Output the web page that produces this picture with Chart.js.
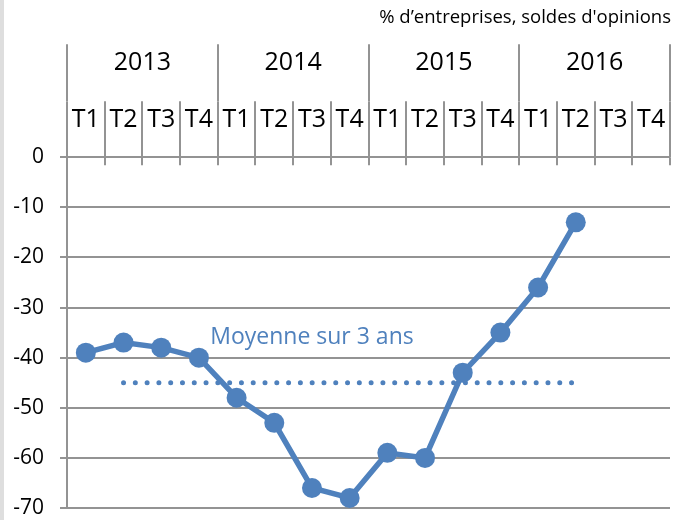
<!DOCTYPE html>
<html><head><meta charset="utf-8">
<script src="https://cdn.jsdelivr.net/npm/chart.js@4/dist/chart.umd.min.js"></script>
<style>
html,body{margin:0;padding:0;background:#fff;}
#wrap{position:relative;width:680px;height:520px;}
#edge{position:absolute;left:0;top:0;width:4px;height:520px;background:#dedede;}
canvas{display:block;}
</style></head><body>
<div id="wrap"><canvas id="c" width="680" height="520"></canvas><div id="edge"></div></div>
<script>
const titleText = '% d’entreprises, soldes d\'opinions';
const avgLabel = 'Moyenne sur 3 ans';
const years = ['2013', '2014', '2015', '2016'];
const quarters = ['T1','T2','T3','T4','T1','T2','T3','T4','T1','T2','T3','T4','T1','T2','T3','T4'];
const yTicks = [0, -10, -20, -30, -40, -50, -60, -70];
const soldes = [-39, -37, -38, -40, -48, -53, -66, -68, -59, -60, -43, -35, -26, -13];
const moyenne = [null, -45, -45, -45, -45, -45, -45, -45, -45, -45, -45, -45, -45, -45, null, null];

const BLUE = '#4f81bd';
const GRID = '#939393';
const FONT = 'Open Sans';

const innerTicks = {
  id: 'innerTicks',
  afterDraw(chart) {
    const s = chart.scales.x, c = chart.ctx, top = chart.chartArea.top;
    c.save();
    c.strokeStyle = GRID; c.lineWidth = 2;
    c.beginPath();
    for (let i = 0; i <= s.ticks.length; i++) {
      const px = Math.round(s.getPixelForValue(i - 0.5));
      c.moveTo(px, top); c.lineTo(px, top + 8);
    }
    c.stroke();
    c.restore();
  }
};

const avgText = {
  id: 'avgText',
  afterDatasetsDraw(chart) {
    const c = chart.ctx;
    const x = chart.scales.x.getPixelForValue(6);
    const y = chart.scales.y.getPixelForValue(-36);
    c.save();
    c.fillStyle = BLUE;
    c.font = '23px "' + FONT + '"';
    c.textAlign = 'center';
    c.textBaseline = 'middle';
    c.fillText(avgLabel, x, y);
    c.restore();
  }
};

new Chart(document.getElementById('c'), {
  type: 'line',
  data: {
    labels: quarters,
    datasets: [
      { label: 'Soldes', data: soldes, xAxisID: 'x', yAxisID: 'y',
        borderColor: BLUE, backgroundColor: BLUE, borderWidth: 5.5,
        pointRadius: 10, pointBackgroundColor: BLUE, pointBorderWidth: 0,
        tension: 0, fill: false, order: 1 },
      { label: avgLabel, data: moyenne, xAxisID: 'x', yAxisID: 'y',
        borderColor: BLUE, borderWidth: 5, borderDash: [0, 11.79], borderCapStyle: 'round',
        pointRadius: 0, fill: false, tension: 0, order: 2 }
    ]
  },
  options: {
    responsive: false, animation: false, devicePixelRatio: 1,
    layout: { padding: { left: 0, right: 9, top: 0, bottom: 12 } },
    plugins: {
      legend: { display: false },
      tooltip: { enabled: false },
      title: { display: true, text: titleText, align: 'end', color: '#000',
        font: { family: FONT, size: 18.5, weight: 'normal' }, padding: { top: 7, bottom: 15 } }
    },
    scales: {
      x: { type: 'category', position: 'top', offset: true, weight: 0,
        grid: { offset: true, drawOnChartArea: false, drawTicks: true, tickLength: 56, color: GRID, lineWidth: 2 },
        border: { display: false },
        ticks: { padding: -34, color: '#000', font: { family: FONT, size: 25 }, maxRotation: 0, autoSkip: false },
        afterFit: s => { s.height = 56; } },
      x2: { type: 'category', labels: years, position: 'top', offset: true, weight: 1,
        grid: { offset: true, drawOnChartArea: false, drawTicks: true, tickLength: 57, color: GRID, lineWidth: 2 },
        border: { display: false },
        ticks: { padding: -34, color: '#000', font: { family: FONT, size: 25 }, maxRotation: 0, autoSkip: false },
        afterFit: s => { s.height = 57; } },
      y: { type: 'linear', position: 'left', min: -70, max: 0,
        afterBuildTicks: s => { s.ticks = yTicks.map(v => ({ value: v })); },
        ticks: { padding: 16, color: '#000', font: { family: FONT, size: 21 } },
        grid: { color: GRID, lineWidth: 2, drawTicks: true, tickLength: 7 },
        border: { display: true, color: GRID, width: 2 },
        afterFit: s => { s.width = 67; s.paddingTop = 0; s.paddingBottom = 0; } }
    }
  },
  plugins: [innerTicks, avgText]
});
</script>
</body></html>
